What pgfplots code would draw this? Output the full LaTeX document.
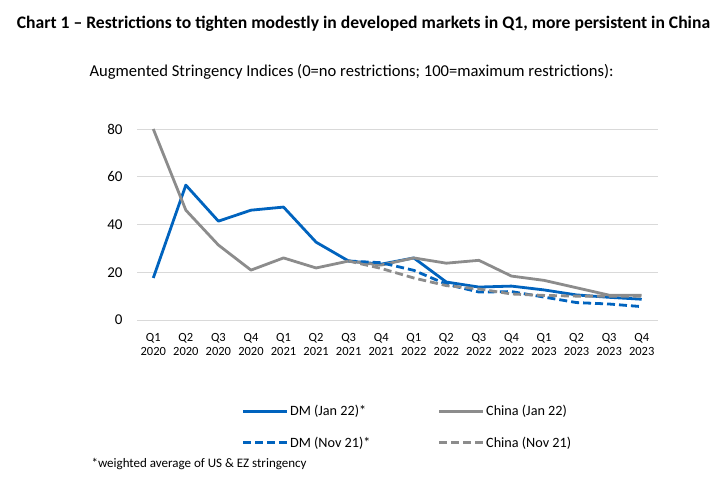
\documentclass[border=0pt]{standalone}
\usepackage{fontspec}
\setmainfont{Carlito}
\usepackage{pgfplots}
\pgfplotsset{compat=1.18}
\definecolor{dmblue}{HTML}{0063BE}
\definecolor{cngray}{HTML}{8C8C8C}
\definecolor{gridgray}{HTML}{D9D9D9}

\begin{document}
\begin{tikzpicture}[x=1pt,y=1pt]
\useasboundingbox (0,0) rectangle (723,-503);
\node[font=\bfseries\fontsize{17.6}{20}\selectfont] at (363.5,-24)
  {Chart 1 – Restrictions to tighten modestly in developed markets in Q1, more persistent in China};
\node[font=\fontsize{16.6}{19}\selectfont] at (351.5,-72)
  {Augmented Stringency Indices (0=no restrictions; 100=maximum restrictions):};
\node[font=\fontsize{13}{15}\selectfont, anchor=west] at (88,-464)
  {*weighted average of US \& EZ stringency};

\begin{axis}[
    at={(137pt,-320pt)}, anchor=south west,
    scale only axis, width=521pt, height=191pt,
    xmin=-0.5, xmax=15.5, ymin=0, ymax=80,
    ytick={0,20,...,80},
    xtick={0,...,15},
    xticklabels={{Q1\\2020},{Q2\\2020},{Q3\\2020},{Q4\\2020},
                 {Q1\\2021},{Q2\\2021},{Q3\\2021},{Q4\\2021},
                 {Q1\\2022},{Q2\\2022},{Q3\\2022},{Q4\\2022},
                 {Q1\\2023},{Q2\\2023},{Q3\\2023},{Q4\\2023}},
    x tick label style={font=\fontsize{12.5}{14}\selectfont, align=center, yshift=-9.5pt},
    y tick label style={font=\fontsize{15}{15}\selectfont, xshift=-11pt},
    /pgf/number format/assume math mode=true,
    axis line style={draw=none},
    major tick length=0pt,
    ymajorgrids,
    grid style={gridgray, line width=0.9pt},
    clip=false,
    legend columns=2,
    legend cell align=left,
    legend image code/.code={\draw[#1] (0pt,0pt) -- (44pt,0pt);},
    legend style={draw=none, fill=none, at={(0.2006,-0.560)}, anchor=west,
        font=\fontsize{14.2}{16}\selectfont, inner sep=0pt,
        nodes={inner sep=1.5pt},
        row sep=16.8pt,
        /tikz/every even column/.append style={column sep=66pt}},
  ]
  \addplot[dmblue, line width=2.8pt, line join=round] coordinates {
    (0,17.6) (1,56.5) (2,41.4) (3,46.0) (4,47.3) (5,32.6) (6,24.7) (7,23.4)
    (8,26.0) (9,15.9) (10,13.8) (11,14.2) (12,12.6) (13,10.5) (14,9.5) (15,8.7)
  };
  \addlegendentry{DM (Jan 22)*}
  \addplot[cngray, line width=2.8pt, line join=round] coordinates {
    (0,80.0) (1,46.0) (2,31.4) (3,20.9) (4,26.0) (5,21.8) (6,24.7) (7,23.0)
    (8,26.0) (9,23.8) (10,25.0) (11,18.4) (12,16.6) (13,13.5) (14,10.4) (15,10.4)
  };
  \addlegendentry{China (Jan 22)}
  \addplot[dmblue, line width=2.8pt, line join=round, dash pattern=on 8pt off 4pt] coordinates {
    (6,24.7) (7,24.0) (8,20.8) (9,15.0) (10,11.7) (11,11.9) (12,9.6) (13,7.3) (14,6.7) (15,5.6)
  };
  \addlegendentry{DM (Nov 21)*}
  \addplot[cngray, line width=2.8pt, line join=round, dash pattern=on 8pt off 4pt] coordinates {
    (6,24.7) (7,21.6) (8,17.6) (9,14.4) (10,13.0) (11,10.9) (12,10.3) (13,10.0) (14,10.0) (15,10.0)
  };
  \addlegendentry{China (Nov 21)}
\end{axis}
\end{tikzpicture}
\end{document}
